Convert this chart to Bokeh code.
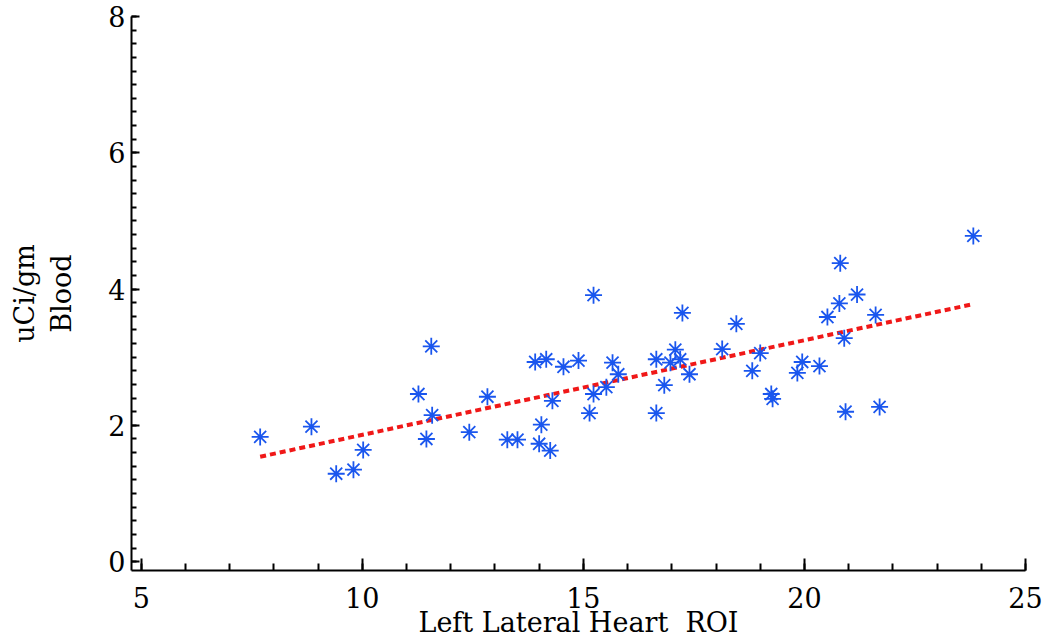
from bokeh.plotting import figure
from bokeh.models import Range1d, SingleIntervalTicker, ColumnDataSource
from bokeh.embed import file_html
from bokeh.resources import INLINE

heart_roi = [7.69, 8.85, 9.41, 9.80, 10.02, 11.27, 11.45, 11.56, 11.58, 12.42,
             12.83, 13.28, 13.51, 13.91, 14.16, 14.55, 14.30, 14.05, 14.00, 14.25,
             14.89, 15.23, 15.66, 15.79, 15.52, 15.23, 15.14, 16.65, 16.83, 16.65,
             17.08, 16.97, 17.19, 17.40, 17.24, 18.14, 18.46, 18.82, 19.00, 19.25,
             19.28, 19.84, 19.95, 20.34, 20.52, 20.79, 20.90, 20.93, 21.19, 20.81,
             23.82, 21.61, 21.70]
blood = [1.83, 1.98, 1.29, 1.35, 1.64, 2.46, 1.80, 3.16, 2.15, 1.90,
         2.42, 1.79, 1.79, 2.93, 2.97, 2.86, 2.36, 2.01, 1.73, 1.63,
         2.95, 3.91, 2.92, 2.75, 2.56, 2.46, 2.18, 2.97, 2.59, 2.18,
         3.11, 2.92, 2.97, 2.75, 3.65, 3.12, 3.49, 2.80, 3.06, 2.46,
         2.39, 2.77, 2.93, 2.87, 3.59, 3.79, 3.28, 2.20, 3.92, 4.38,
         4.78, 3.62, 2.27]
# two-point fitted trend line endpoints
trend_x = [7.69, 23.82]
trend_y = [1.54, 3.78]

FONT = "DejaVu Serif"

p = figure(width=1049, height=644, output_backend="svg", toolbar_location=None,
           x_range=Range1d(4.78, 25.0), y_range=Range1d(-0.13, 8.0),
           min_border_left=131, min_border_right=24, min_border_top=16,
           min_border_bottom=74)
p.outline_line_color = None
p.xgrid.visible = False
p.ygrid.visible = False
p.background_fill_color = "white"
p.border_fill_color = "white"

p.line(trend_x, trend_y, line_color="#f01818", line_width=4, line_dash="6 4")
src = ColumnDataSource(dict(x=heart_roi, y=blood))
p.scatter("x", "y", source=src, marker="asterisk", size=17,
          line_color="#1a56ee", line_width=1.8)

xa = p.xaxis[0]
xa.ticker = SingleIntervalTicker(interval=5, num_minor_ticks=5)
xa.axis_label = "Left Lateral Heart \u00a0ROI"
ya = p.yaxis[0]
ya.ticker = SingleIntervalTicker(interval=2, num_minor_ticks=10)
ya.axis_label = "uCi/gm\nBlood"

for ax in (xa, ya):
    ax.axis_line_color = "black"
    ax.axis_line_width = 2
    ax.major_tick_line_color = "black"
    ax.minor_tick_line_color = "black"
    ax.major_tick_line_width = 2
    ax.minor_tick_line_width = 2
    ax.major_tick_out = 0
    ax.minor_tick_out = 0
    ax.major_label_text_font = FONT
    ax.major_label_text_font_size = "27px"
    ax.major_label_text_color = "black"
    ax.axis_label_text_font = FONT
    ax.axis_label_text_font_size = "27px"
    ax.axis_label_text_font_style = "normal"
    ax.axis_label_text_color = "black"

xa.major_tick_in = 12
xa.minor_tick_in = 7
xa.major_label_standoff = 16
xa.axis_label_standoff = -4
ya.major_tick_in = 8
ya.minor_tick_in = 5
ya.major_label_standoff = 6
ya.axis_label_standoff = 28

open("out.html", "w").write(file_html(p, INLINE))
